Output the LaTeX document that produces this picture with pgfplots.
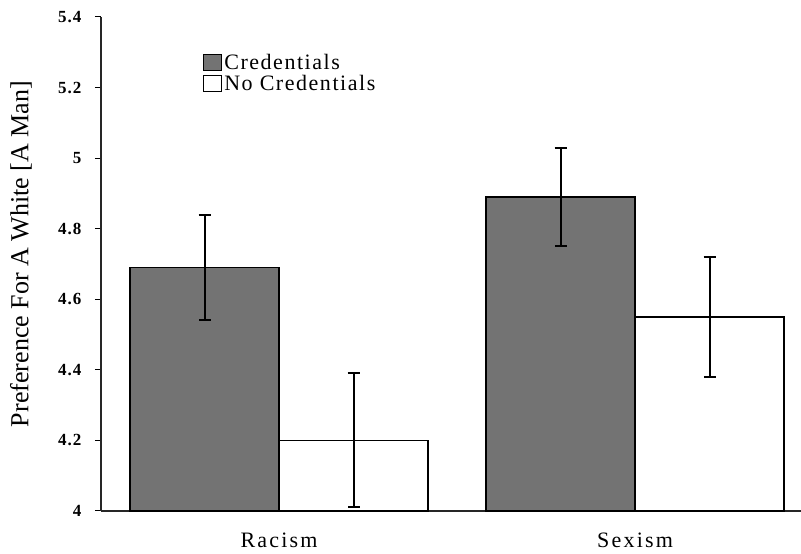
\documentclass[border=0pt]{standalone}
\usepackage{pgfplots}
\pgfplotsset{compat=1.18}
\usepackage{fontspec}
\setmainfont{Liberation Serif}
\newfontfamily\spaced[LetterSpace=7]{Liberation Serif}
\newfontfamily\xspaced[LetterSpace=10]{Liberation Serif}
\newfontfamily\tickfont[LetterSpace=6]{Liberation Serif}
\definecolor{credgray}{RGB}{115,115,115}
\begin{document}
\begin{tikzpicture}
\begin{axis}[
  width=700pt, height=494pt, scale only axis,
  xmin=-0.5, xmax=1.466,
  ymin=4, ymax=5.4,
  axis x line=bottom, axis y line=left,
  axis line style={-, line width=1.2pt, black!85},
  ytick={4,4.2,4.4,4.6,4.8,5,5.2,5.4},
  yticklabels={4,4.2,4.4,4.6,4.8,5,5.2,5.4},
  xtick={0,1}, xticklabels={Racism,Sexism},
  x tick style={draw=none},
  y tick style={line width=1pt, black},
  tick align=outside, major tick length=6pt,
  /pgf/number format/assume math mode=true,
  yticklabel style={font=\tickfont\bfseries\fontsize{17}{20}\selectfont, xshift=-10pt},
  xticklabel style={font=\xspaced\fontsize{22}{24}\selectfont, yshift=-12pt},
  ybar, bar width=0.4185,
  legend cell align=left,
  legend style={at={(rel axis cs:0.146,0.93)}, anchor=north west, draw=none, fill=none,
    font=\spaced\fontsize{22}{24}\selectfont, inner sep=0pt, row sep=1pt,
    nodes={inner sep=2pt}},
  legend image code/.code={\draw[#1, line width=0.9pt] (0pt,-8pt) rectangle (18pt,8pt);},
  legend image post style={xshift=-3pt},
  clip=false,
]
\addplot[bar shift=-0.20925, fill=credgray, draw=black, line width=1.3pt,
  error bars/.cd, y dir=both, y explicit,
  error bar style={line width=2pt, black},
  error mark options={rotate=90, mark size=6pt, line width=2pt, black}]
  coordinates {(0,4.69) +- (0,0.15) (1,4.89) +- (0,0.14)};
\addplot[bar shift=0.20925, fill=white, draw=black, line width=1.3pt,
  error bars/.cd, y dir=both, y explicit,
  error bar style={line width=2pt, black},
  error mark options={rotate=90, mark size=6pt, line width=2pt, black}]
  coordinates {(0,4.20) +- (0,0.19) (1,4.55) +- (0,0.17)};
\legend{Credentials, No Credentials}
\coordinate (O) at (rel axis cs:0,0);
\coordinate (T) at (rel axis cs:1,1);
\node[rotate=90, font=\fontsize{26}{28}\selectfont] at ([xshift=-80pt]rel axis cs:0,0.52) {Preference For A White [A Man]};
\end{axis}
\pgfresetboundingbox
\path ([shift={(-101pt,-43pt)}]O) rectangle ([shift={(0pt,17pt)}]T);
\end{tikzpicture}
\end{document}
